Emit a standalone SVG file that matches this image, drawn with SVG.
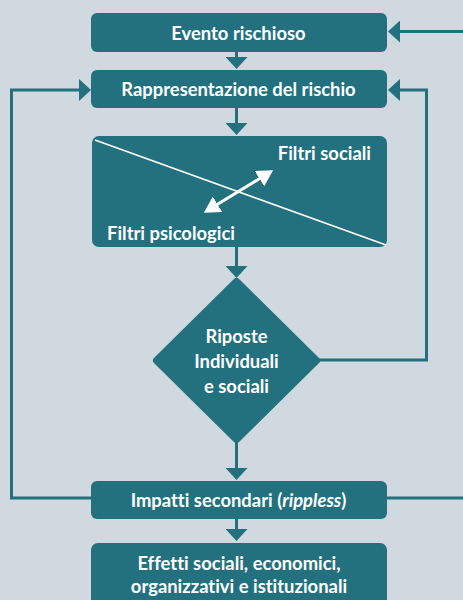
<svg xmlns="http://www.w3.org/2000/svg" width="463" height="600" viewBox="0 0 463 600">
<style>
.bg{fill:#d0d9df}
.box{fill:#23717e}
.t{fill:#ffffff;font-family:Lato,"Open Sans","Liberation Sans",sans-serif;font-weight:bold;font-size:18.4px;text-anchor:middle;font-variant-ligatures:none}
.tl{text-anchor:start}
.c{fill:none;stroke:#23717e;stroke-width:3}
.w{fill:none;stroke:#ffffff;stroke-width:3}
</style>
<defs>
<marker id="ah" viewBox="0 0 12 22" refX="8" refY="11" markerWidth="12" markerHeight="22" orient="auto" markerUnits="userSpaceOnUse">
<path d="M0,0 L12,11 L0,22 Z" fill="#23717e"/>
</marker>
<marker id="wh" viewBox="0 0 16 18" refX="10" refY="9" markerWidth="16" markerHeight="18" orient="auto-start-reverse" markerUnits="userSpaceOnUse">
<path d="M0,0 L16,9 L0,18 Z" fill="#ffffff"/>
</marker>
</defs>
<rect class="bg" x="0" y="0" width="463" height="600"/>
<g id="connectors">
<path class="c" d="M236.5,52 V65" marker-end="url(#ah)"/>
<path class="c" d="M236.5,108 V131" marker-end="url(#ah)"/>
<path class="c" d="M236.5,247 V274" marker-end="url(#ah)"/>
<path class="c" d="M236.5,442 V476" marker-end="url(#ah)"/>
<path class="c" d="M236.5,519 V537" marker-end="url(#ah)"/>
<path class="c" d="M91,498 H11.5 V90 H87" marker-end="url(#ah)"/>
<path class="c" d="M318,360 H426.5 V90 H392" marker-end="url(#ah)"/>
<path class="c" d="M387,498 H468 V31.5 H392" marker-end="url(#ah)"/>
</g>
<g id="n1">
<rect class="box" x="91" y="13" width="296" height="39" rx="6"/>
<text class="t" x="238.5" y="39.5">Evento rischioso</text>
</g>
<g id="n2">
<rect class="box" x="91" y="70" width="296" height="38" rx="6"/>
<text class="t" x="238.5" y="95.5">Rappresentazione del rischio</text>
</g>
<g id="n3">
<rect class="box" x="92" y="136" width="295" height="111" rx="7"/>
<line x1="95" y1="140" x2="386" y2="245" stroke="#ffffff" stroke-width="1.5"/>
<text class="t" x="371" y="160" style="text-anchor:end">Filtri sociali</text>
<text class="t tl" x="107" y="240">Filtri psicologici</text>
<path class="w" d="M209,209.5 L268,173.5" marker-start="url(#wh)" marker-end="url(#wh)"/>
</g>
<g id="n4">
<polygon class="box" points="236.5,282 316,360.5 236.5,439 157,360.5" stroke="#23717e" stroke-width="8" stroke-linejoin="round"/>
<text class="t" x="236.5" y="343">Riposte</text>
<text class="t" x="236.5" y="368">Individuali</text>
<text class="t" x="236.5" y="393">e sociali</text>
</g>
<g id="n5">
<rect class="box" x="91" y="481" width="296" height="38" rx="6"/>
<text class="t" x="238.5" y="506.5">Impatti secondari (<tspan font-style="italic">rippless</tspan>)</text>
</g>
<g id="n6">
<rect class="box" x="91" y="543" width="296" height="70" rx="7"/>
<text class="t" x="239" y="570">Effetti sociali, economici,</text>
<text class="t" x="239" y="593">organizzativi e istituzionali</text>
</g>
</svg>
